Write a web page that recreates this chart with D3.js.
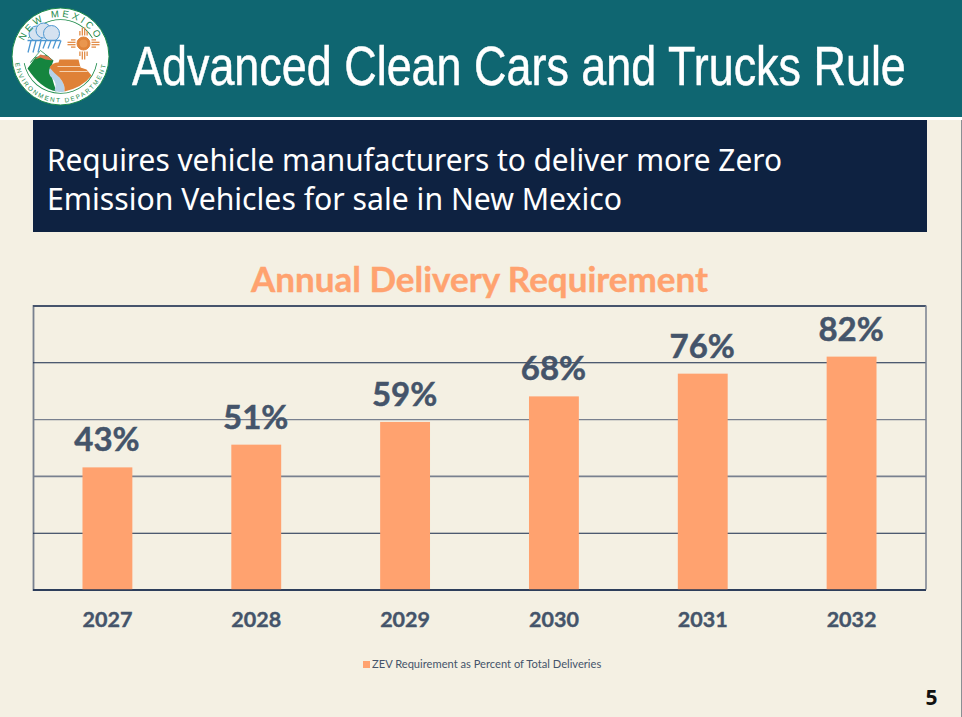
<!DOCTYPE html>
<html><head><meta charset="utf-8">
<script src="https://cdn.jsdelivr.net/npm/d3@7"></script>
<style>html,body{margin:0;padding:0;background:#f4f0e3}svg{display:block}</style>
</head><body><svg id="c" width="962" height="717"></svg>
<script>
const years = ["2027","2028","2029","2030","2031","2032"];
const zevPercent = [43,51,59,68,76,82];
const gridTicks = [0,20,40,60,80,100];
const titleText = "Advanced Clean Cars and Trucks Rule";
const subtitleLines = ["Requires vehicle manufacturers to deliver more Zero","Emission Vehicles for sale in New Mexico"];
const chartTitle = "Annual Delivery Requirement";
const legendLabel = "ZEV Requirement as Percent of Total Deliveries";
const pageNumber = "5";

const svg = d3.select("#c");
const W=962,H=717;
svg.append("rect").attr("width",W).attr("height",H).attr("fill","#f4f0e3");
svg.append("rect").attr("x",961).attr("width",1).attr("height",H).attr("fill","#8a8f94");
// header
svg.append("rect").attr("width",W).attr("height",117).attr("fill","#0f6671");
svg.append("rect").attr("y",117).attr("width",W).attr("height",3).attr("fill","#ffffff");
const tt = svg.append("text").text(titleText)
  .attr("font-family","'Liberation Sans'").attr("font-size",55).attr("fill","#fff")
  .attr("stroke","#fff").attr("stroke-width",0.5);
const sx = 774/tt.node().getComputedTextLength();
tt.attr("transform",`translate(132,85) scale(${sx},1)`);
// banner
svg.append("rect").attr("x",33).attr("y",120).attr("width",894).attr("height",112).attr("fill","#0e2241");
const subWidths = [735,575];
svg.selectAll(".sub").data(subtitleLines).join("text").attr("class","sub").text(d=>d)
  .attr("x",47).attr("y",(d,i)=>171+i*39)
  .attr("font-family","'Noto Sans'").attr("font-size",30).attr("fill","#fff")
  .attr("textLength",(d,i)=>subWidths[i]).attr("lengthAdjust","spacingAndGlyphs");

// logo
const logo = svg.append("g").attr("transform","translate(60.5,56.5)");
logo.append("circle").attr("r",48.5).attr("fill","#fff").attr("stroke","#1c8a4a").attr("stroke-width",1);
logo.append("path").attr("d",d3.arc()({innerRadius:36.5,outerRadius:37.3,startAngle:-1.05,endAngle:1.05})).attr("fill","#1c8a4a");
logo.append("path").attr("d",d3.arc()({innerRadius:36.5,outerRadius:37.3,startAngle:1.75,endAngle:4.53})).attr("fill","#1c8a4a");
// mountain
logo.append("path").attr("d","M-33,12 L-20,-6 L-7,4 L-10,12 Q-9,22 -4,35 Q-20,32 -33,12Z").attr("fill","#15853f");
logo.append("path").attr("d","M-30,6 L-20,-6 L-10,2 L-14,-1 L-20,0 L-26,1Z").attr("fill","#fff").attr("stroke","#15853f").attr("stroke-width",.6);
logo.append("path").attr("d","M-26,3 L-20,-2 L-12,0 L-8,4 L-15,3 L-20,1Z").attr("fill","#d9764a");
// river
logo.append("path").attr("d","M-10,10 Q-14,17 -8,22 Q-3,27 -6,34 Q0,37 4,35 Q5,28 -1,21 Q-6,15 -3,10Z").attr("fill","#b6d1e8");
// mesa
logo.append("path").attr("d","M-11,11 Q-8,6 -2,6 L-1,3 L18,3 L20,11 L26,13 L31,19 Q22,31 4,35 Q5,28 -1,21 Q-7,16 -11,11Z").attr("fill","#df8137");
logo.append("path").attr("d","M-3,10 L20,10 M-1,15 L27,15").attr("stroke","#f6d2b0").attr("stroke-width",1).attr("fill","none");
// clouds + rain
[[-24,-23,7.5],[-17,-26,7.5],[-9,-23,8]].forEach(c=>{
  logo.append("circle").attr("cx",c[0]).attr("cy",c[1]).attr("r",c[2]).attr("fill","#d5e2f0").attr("stroke","#4d97d1").attr("stroke-width",1);
});
logo.append("rect").attr("x",-34).attr("y",-15.5).attr("width",34).attr("height",8).attr("fill","#fff");
logo.append("path").attr("d","M-33,-16 L0,-16").attr("stroke","#4d97d1").attr("stroke-width",1.5);
[-31,-26,-21,-16,-11,-6,-1].forEach((x,i)=>{
  logo.append("line").attr("x1",x+1.5).attr("y1",-16).attr("x2",x-1.5).attr("y2",i<3?-4:-8).attr("stroke","#4d97d1").attr("stroke-width",1.3);
});
// zia
const zia = logo.append("g").attr("transform","translate(23,-13)");
zia.append("circle").attr("r",6.5).attr("fill","#e08338").attr("stroke","#e08338");
zia.append("circle").attr("r",4).attr("fill","#e9964e");
[0,90,180,270].forEach(a=>{
  const g=zia.append("g").attr("transform",`rotate(${a})`);
  [-3.6,-1.2,1.2,3.6].forEach((x,i)=>{
    const l=(i==1||i==2)?16:12.5;
    g.append("line").attr("x1",x).attr("x2",x).attr("y1",-8).attr("y2",-l).attr("stroke","#e08338").attr("stroke-width",1.2);
  });
});
// ring text
const defs = svg.append("defs");
defs.append("path").attr("id","arcTop").attr("d","M-39.5,0 A39.5,39.5 0 0 1 39.5,0");
defs.append("path").attr("id","arcBot").attr("d","M-46,0 A46,46 0 0 0 46,0");
logo.append("text").attr("font-family","'Liberation Sans'").attr("font-size",9.5).attr("letter-spacing",3).attr("fill","#1c8a4a")
  .append("textPath").attr("href","#arcTop").attr("startOffset","50%").attr("text-anchor","middle").text("NEW MEXICO");
logo.append("text").attr("font-family","'Liberation Sans'").attr("font-size",6.3).attr("letter-spacing",1.8).attr("fill","#1c8a4a")
  .append("textPath").attr("href","#arcBot").attr("startOffset","50%").attr("text-anchor","middle").text("ENVIRONMENT DEPARTMENT");

// chart
const x = d3.scaleBand().domain(years).range([33,926]).paddingInner(0.665).paddingOuter(0.3325);
const y = d3.scaleLinear().domain([0,100]).range([589.5,305.5]);
svg.append("text").text(chartTitle).attr("x",479.5).attr("y",292).attr("text-anchor","middle")
  .attr("font-family","Lato").attr("font-weight",700).attr("font-size",35).attr("fill","#ffa26f")
  .attr("stroke","#ffa26f").attr("stroke-width",0.4);

const greyTicks = [60,40];
const gridG = svg.append("g").call(d3.axisLeft(y).tickValues(gridTicks).tickSize(-893).tickFormat(""))
  .attr("transform","translate(33,0)");
gridG.select(".domain").attr("stroke","#78808f").attr("stroke-width",1.8);
gridG.selectAll(".tick line")
  .attr("stroke",d=>greyTicks.includes(d)?"#78808f":"#14294a")
  .attr("stroke-width",d=>d===40?1.6:1.1);
svg.append("line").attr("x1",926).attr("x2",926).attr("y1",y(100)).attr("y2",y(0)).attr("stroke","#78808f").attr("stroke-width",1.5);

svg.selectAll(".bar").data(zevPercent).join("rect").attr("class","bar")
  .attr("x",(d,i)=>x(years[i])).attr("width",x.bandwidth())
  .attr("y",d=>y(d)).attr("height",d=>y(0)-y(d)).attr("fill","#ffa26f");
svg.append("line").attr("x1",33).attr("x2",926).attr("y1",y(0)+.5).attr("y2",y(0)+.5).attr("stroke","#14294a").attr("stroke-width",1.1);

svg.selectAll(".val").data(zevPercent).join("text").attr("class","val").text(d=>d+"%")
  .attr("x",(d,i)=>x(years[i])+x.bandwidth()/2-0.5).attr("y",d=>y(d)-16).attr("text-anchor","middle")
  .attr("font-family","Lato").attr("font-weight",700).attr("font-size",33).attr("fill","#44546a")
  .attr("stroke","#44546a").attr("stroke-width",0.5);

const xG = svg.append("g").attr("transform","translate(0,589.5)").call(d3.axisBottom(x).tickSize(0).tickPadding(22));
xG.select(".domain").remove();
xG.selectAll("text").attr("font-family","Lato").attr("font-weight",700).attr("font-size",21.5).attr("fill","#44546a")
  .attr("stroke","#44546a").attr("stroke-width",0.4);

svg.append("rect").attr("x",363).attr("y",661).attr("width",7).attr("height",7).attr("fill","#ffa26f");
svg.append("text").text(legendLabel).attr("x",372).attr("y",668)
  .attr("font-family","Lato").attr("font-size",11.15).attr("fill","#44546a");
svg.append("text").text(pageNumber).attr("x",931.5).attr("y",705).attr("text-anchor","middle")
  .attr("font-family","'Open Sans'").attr("font-weight",700).attr("font-size",21).attr("fill","#111");
</script></body></html>
